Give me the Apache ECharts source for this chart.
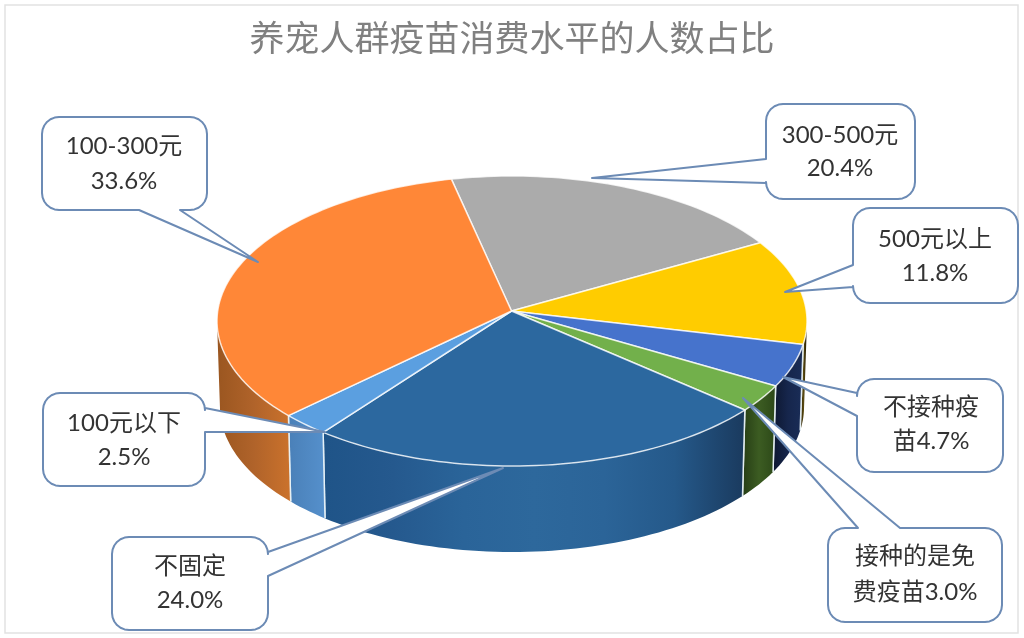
<!DOCTYPE html>
<html>
<head>
<meta charset="utf-8">
<style>html,body{margin:0;padding:0;background:#fff}#chart{width:1024px;height:638px}</style>
<script src="https://cdn.jsdelivr.net/npm/echarts@6/dist/echarts.min.js"></script>
</head>
<body>
<div id="chart"></div>
<script>
// ---- data ----
var chartTitle = '养宠人群疫苗消费水平的人数占比';
var categories = ['300-500元', '500元以上', '不接种疫苗', '接种的是免费疫苗', '不固定', '100元以下', '100-300元'];
var values = [20.4, 11.8, 4.7, 3.0, 24.0, 2.5, 33.6];
// where each callout's "name + value" text wraps to a second line
var labelBreaks = [8, 6, 4, 5, 3, 6, 8];

// ---- styles and layout ----
var topColors = ['#ABABAB', '#FFCC00', '#4673CC', '#72B04B', '#2C689F', '#5B9FE0', '#FF8737'];
var sideStops = [
  ['#777777', '#777777'],
  ['#2A2008', '#5A4A10', '#1A1405'],
  ['#0D1730', '#16264C', '#1A2D58'],
  ['#263D15', '#3C5C22', '#2C4818'],
  ['#1F5488', '#25598E', '#2A6499', '#2D689C', '#2B6498', '#25598A', '#1A3A5E'],
  ['#4A80B8', '#5590CC'],
  ['#9A5620', '#B0632A', '#CB722C']
];
var boxes = [
  {x: 766, y: 104, w: 149, h: 95, edge: 'left', a: 159, b: 183, tip: [592, 178], t: [840, 135, 168]},
  {x: 853, y: 208, w: 165, h: 95, edge: 'left', a: 265, b: 287, tip: [785, 292], t: [935, 239, 273]},
  {x: 857, y: 379, w: 146, h: 93, edge: 'left', a: 393, b: 416, tip: [783, 377], t: [931, 407, 441]},
  {x: 828, y: 528, w: 174, h: 94, edge: 'top', a: 858, b: 900, tip: [743, 398], t: [915, 556, 592]},
  {x: 112, y: 537, w: 156, h: 93, edge: 'right', a: 552, b: 576, tip: [503, 468], t: [190, 566, 600]},
  {x: 43, y: 393, w: 162, h: 93, edge: 'right', a: 408, b: 432, tip: [325, 432], t: [124, 423, 457]},
  {x: 42, y: 117, w: 165, h: 93, edge: 'bottom', a: 139, b: 180, tip: [258, 262], t: [124, 146, 181]}
];
var CX = 512, CY = 311, RX = 294.3, RY = 144.3, K = 0.069, DEPTH = 86, BOTTOM_SCALE = 0.99;
var START_DEG = -12.7, FRONT_FROM = 94, FRONT_TO = 266;
var LABEL_FONT = 'Lato, "Noto Sans CJK SC", sans-serif';

// ---- geometry ----
var total = values.reduce(function (s, v) { return s + v; }, 0);
function sliceRange(i) {
  var before = 0;
  for (var j = 0; j < i; j++) before += values[j];
  return [START_DEG + before / total * 360, START_DEG + (before + values[i]) / total * 360];
}
function project(deg) {
  var r = deg * Math.PI / 180, u = Math.sin(r), v = -Math.cos(r), d = 1 - K * v;
  return [CX + RX * u / d, CY + RY * v / d];
}
function lower(p) { return [CX + (p[0] - CX) * BOTTOM_SCALE, p[1] + DEPTH]; }
function arc(a0, a1) {
  var pts = [], n = Math.max(2, Math.ceil(Math.abs(a1 - a0) / 1.5));
  for (var i = 0; i <= n; i++) pts.push(project(a0 + (a1 - a0) * i / n));
  return pts;
}
function renderSide(params, api) {
  var i = params.dataIndex, rg = sliceRange(i);
  var a0 = Math.max(rg[0], FRONT_FROM), a1 = Math.min(rg[1], FRONT_TO);
  if (a1 <= a0) return {type: 'group', children: []};
  var up = arc(a0, a1), low = up.map(lower).reverse();
  var stops = sideStops[i].map(function (c, k, arr) { return {offset: k / (arr.length - 1), color: c}; });
  var children = [{
    type: 'polygon', shape: {points: up.concat(low)},
    style: {fill: new echarts.graphic.LinearGradient(0, 0, 1, 0, stops), stroke: null}
  }];
  [rg[0], rg[1]].forEach(function (a) {
    if (a > FRONT_FROM && a < FRONT_TO) {
      var p = project(a);
      children.push({type: 'line', shape: {x1: p[0], y1: p[1], x2: lower(p)[0], y2: lower(p)[1]},
        style: {stroke: 'rgba(235,245,250,0.9)', lineWidth: 1.5}});
    }
  });
  return {type: 'group', children: children};
}
function renderTop(params, api) {
  var i = params.dataIndex, rg = sliceRange(i);
  return {
    type: 'polygon',
    shape: {points: [[CX - 0.5, CY]].concat(arc(rg[0], rg[1]))},
    style: {fill: topColors[i], stroke: 'rgba(255,255,255,0.78)', lineWidth: 1.5, lineJoin: 'round'}
  };
}
function corner(pts, cx, cy, r, from) {
  for (var k = 0; k <= 6; k++) {
    var t = (from + k * 15) * Math.PI / 180;
    pts.push([cx + r * Math.cos(t), cy + r * Math.sin(t)]);
  }
}
function calloutPoints(b) {
  var r = 17, pts = [], L = b.x, T = b.y, R = b.x + b.w, B = b.y + b.h;
  corner(pts, L + r, T + r, r, 180);
  if (b.edge === 'top') pts.push([b.a, T], b.tip, [b.b, T]);
  corner(pts, R - r, T + r, r, 270);
  if (b.edge === 'right') pts.push([R, b.a], b.tip, [R, b.b]);
  corner(pts, R - r, B - r, r, 0);
  if (b.edge === 'bottom') pts.push([b.b, B], b.tip, [b.a, B]);
  corner(pts, L + r, B - r, r, 90);
  if (b.edge === 'left') pts.push([L, b.b], b.tip, [L, b.a]);
  return pts;
}
function renderCallout(params, api) {
  var i = params.dataIndex, b = boxes[i];
  var s = categories[i] + api.value(0).toFixed(1) + '%';
  var lines = [s.slice(0, labelBreaks[i]), s.slice(labelBreaks[i])];
  var textStyle = function (str, y) {
    return {type: 'text', style: {x: b.t[0], y: y, text: str, fill: '#333333', align: 'center',
      verticalAlign: 'middle', fontSize: 24, fontFamily: LABEL_FONT}};
  };
  return {type: 'group', children: [
    {type: 'polygon', shape: {points: calloutPoints(b)},
      style: {fill: '#ffffff', stroke: '#6C8BB5', lineWidth: 2, lineJoin: 'round'}},
    textStyle(lines[0], b.t[1]),
    textStyle(lines[1], b.t[2])
  ]};
}

var seriesData = values.map(function (v, i) { return {name: categories[i], value: [v]}; });
var chart = echarts.init(document.getElementById('chart'), null, {renderer: 'canvas'});
chart.setOption({
  animation: false,
  backgroundColor: '#ffffff',
  title: {
    text: chartTitle, left: 'center', top: 15,
    textStyle: {color: '#808080', fontSize: 35, fontWeight: 'normal', fontFamily: '"Noto Sans CJK SC", sans-serif'}
  },
  graphic: [{
    type: 'rect', silent: true, z: -1,
    shape: {x: 5, y: 5, width: 1013, height: 628},
    style: {fill: 'none', stroke: '#E2E2E2', lineWidth: 1.5}
  }],
  series: [
    {type: 'custom', name: 'side', coordinateSystem: 'none', renderItem: renderSide, data: seriesData, z: 2, silent: true},
    {type: 'custom', name: 'top', coordinateSystem: 'none', renderItem: renderTop, data: seriesData, z: 3, silent: true},
    {type: 'custom', name: 'callout', coordinateSystem: 'none', renderItem: renderCallout, data: seriesData, z: 4, silent: true}
  ]
});
</script>
</body>
</html>
